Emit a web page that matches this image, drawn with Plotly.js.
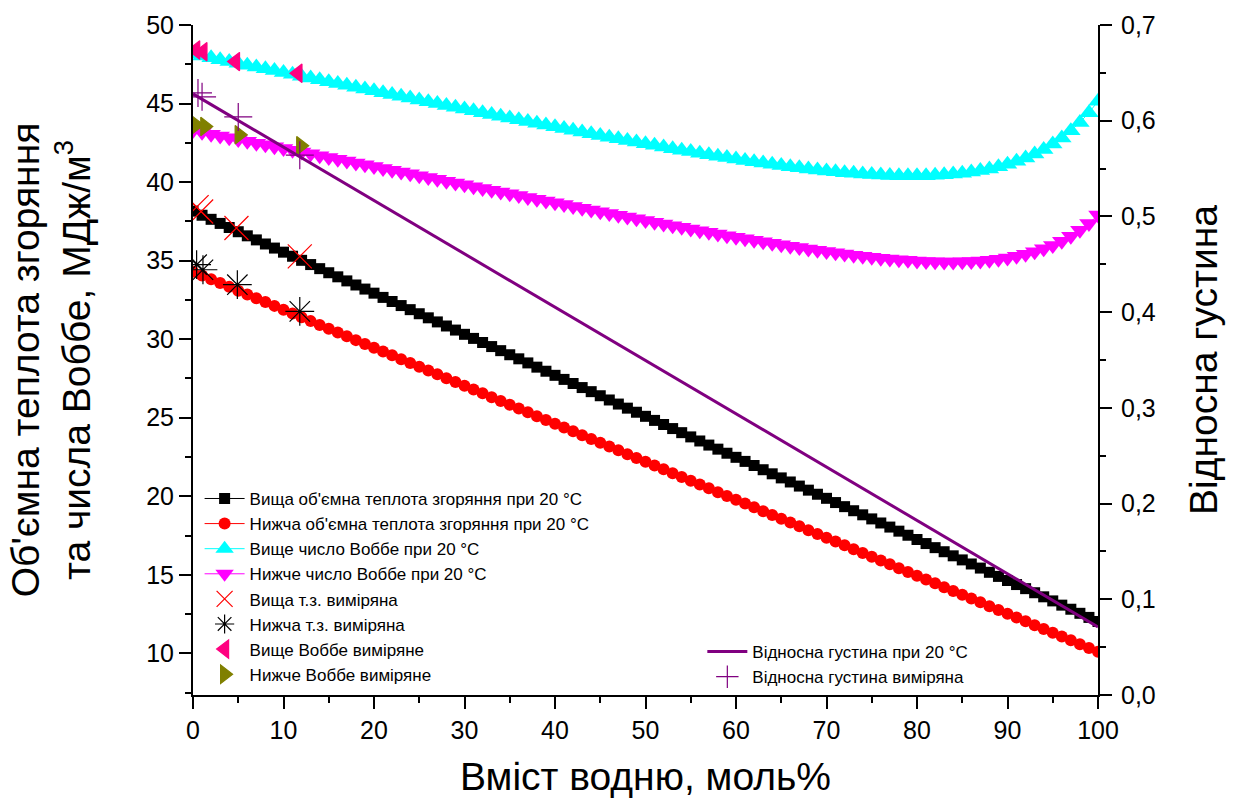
<!DOCTYPE html>
<html>
<head>
<meta charset="utf-8">
<script src="https://cdn.plot.ly/plotly-3.0.1.min.js"></script>
<style>
  html, body { margin: 0; padding: 0; background: #fff; }
  #chart { width: 1239px; height: 798px; }
</style>
</head>
<body>
<div id="chart"></div>
<script>
// hydrogen content, mol% (computed curves are tabulated every 1 %)
const xH2 = [0,1,2,3,4,5,6,7,8,9,10,11,12,13,14,15,16,17,18,19,20,21,22,23,24,25,26,27,28,29,30,
  31,32,33,34,35,36,37,38,39,40,41,42,43,44,45,46,47,48,49,50,51,52,53,54,55,56,57,58,59,60,
  61,62,63,64,65,66,67,68,69,70,71,72,73,74,75,76,77,78,79,80,81,82,83,84,85,86,87,88,89,90,
  91,92,93,94,95,96,97,98,99,100];

// higher volumetric heat of combustion at 20 °C, MJ/m3
const hhv = [38.15,37.89,37.63,37.37,37.11,36.84,36.58,36.32,36.06,35.80,35.54,35.28,35.02,34.75,34.49,
  34.23,33.97,33.71,33.45,33.19,32.93,32.66,32.40,32.14,31.88,31.62,31.36,31.10,30.84,30.58,30.31,
  30.05,29.79,29.53,29.27,29.01,28.75,28.49,28.22,27.96,27.70,27.44,27.18,26.92,26.66,26.40,26.13,
  25.87,25.61,25.35,25.09,24.83,24.57,24.31,24.05,23.78,23.52,23.26,23.00,22.74,22.48,22.22,21.96,
  21.69,21.43,21.17,20.91,20.65,20.39,20.13,19.87,19.60,19.34,19.08,18.82,18.56,18.30,18.04,17.78,
  17.52,17.25,16.99,16.73,16.47,16.21,15.95,15.69,15.43,15.16,14.90,14.64,14.38,14.12,13.86,13.60,
  13.34,13.07,12.81,12.55,12.29,12.03];

// lower volumetric heat of combustion at 20 °C, MJ/m3
const lhv = [34.30,34.06,33.82,33.57,33.33,33.09,32.85,32.61,32.36,32.12,31.88,31.64,31.40,31.15,30.91,
  30.67,30.43,30.19,29.94,29.70,29.46,29.22,28.98,28.73,28.49,28.25,28.01,27.77,27.52,27.28,27.04,
  26.80,26.56,26.31,26.07,25.83,25.59,25.35,25.10,24.86,24.62,24.38,24.14,23.89,23.65,23.41,23.17,
  22.93,22.68,22.44,22.20,21.96,21.72,21.47,21.23,20.99,20.75,20.51,20.26,20.02,19.78,19.54,19.30,
  19.05,18.81,18.57,18.33,18.09,17.84,17.60,17.36,17.12,16.88,16.63,16.39,16.15,15.91,15.67,15.42,
  15.18,14.94,14.70,14.46,14.21,13.97,13.73,13.49,13.25,13.00,12.76,12.52,12.28,12.04,11.79,11.55,
  11.31,11.07,10.83,10.58,10.34,10.10];

// higher Wobbe index at 20 °C
const wobbeHi = [48.14,48.02,47.91,47.79,47.68,47.56,47.44,47.33,47.21,47.10,46.98,46.86,46.74,46.63,46.51,
  46.39,46.27,46.16,46.04,45.93,45.81,45.69,45.58,45.46,45.35,45.23,45.11,45.00,44.88,44.77,44.65,
  44.54,44.42,44.31,44.19,44.08,43.97,43.86,43.74,43.63,43.52,43.41,43.30,43.19,43.08,42.97,42.86,
  42.76,42.65,42.55,42.44,42.34,42.24,42.13,42.03,41.94,41.84,41.74,41.65,41.56,41.47,41.38,41.30,
  41.21,41.13,41.05,40.98,40.91,40.84,40.77,40.71,40.66,40.60,40.56,40.51,40.48,40.45,40.42,40.41,
  40.40,40.40,40.41,40.43,40.46,40.51,40.57,40.64,40.73,40.84,40.98,41.13,41.32,41.54,41.79,42.08,
  42.42,42.81,43.27,43.80,44.42,45.15];

// lower Wobbe index at 20 °C
const wobbeLo = [43.28,43.17,43.05,42.94,42.82,42.71,42.60,42.48,42.37,42.25,42.14,42.03,41.91,41.80,41.68,
  41.57,41.45,41.34,41.22,41.11,40.99,40.87,40.76,40.64,40.53,40.41,40.29,40.18,40.06,39.95,39.83,
  39.71,39.60,39.48,39.37,39.25,39.14,39.02,38.91,38.79,38.68,38.57,38.45,38.34,38.22,38.11,38.00,
  37.89,37.77,37.66,37.55,37.44,37.33,37.22,37.12,37.01,36.90,36.80,36.70,36.59,36.49,36.39,36.29,
  36.20,36.10,36.01,35.92,35.83,35.74,35.66,35.58,35.50,35.42,35.35,35.28,35.22,35.16,35.11,35.06,
  35.02,34.98,34.95,34.93,34.92,34.92,34.93,34.95,34.98,35.03,35.09,35.17,35.28,35.41,35.56,35.75,
  35.97,36.24,36.55,36.93,37.37,37.90];

// relative density at 20 °C (straight line, right axis)
const densX = [0, 100];
const densY = [0.628, 0.071];

// measured points
const hhvMeasX = [0.4, 0.9, 4.8, 11.8];
const hhvMeasY = [38.41, 38.13, 37.08, 35.27];
const lhvMeasX = [0.4, 1.1, 4.9, 11.8];
const lhvMeasY = [34.74, 34.42, 33.47, 31.77];
const wobbeHiMeasX = [0.3, 1.1, 4.7, 11.6];
const wobbeHiMeasY = [48.41, 48.30, 47.67, 46.93];
const wobbeLoMeasX = [0.3, 1.3, 5.1, 11.9];
const wobbeLoMeasY = [43.64, 43.54, 43.01, 42.31];
const densMeasX = [0.55, 1.0, 5.0, 11.8];
const densMeasY = [0.629, 0.625, 0.604, 0.564];

const names = [
  "Вища об'ємна теплота згоряння при 20 °C",
  "Нижча об'ємна теплота згоряння при 20 °C",
  'Вище число Воббе при 20 °C',
  'Нижче число Воббе при 20 °C',
  'Вища т.з. виміряна',
  'Нижча т.з. виміряна',
  'Вище Воббе виміряне',
  'Нижче Воббе виміряне',
  'Відносна густина при 20 °C',
  'Відносна густина виміряна'
];

const FONT = 'Arial, "Liberation Sans", sans-serif';

function curve(name, y, color, symbol, size) {
  return {
    type: 'scatter', mode: 'lines+markers', x: xH2, y: y, name: name,
    line: { color: color, width: 1 },
    marker: { symbol: symbol, size: size, color: color, line: { width: 0 } }
  };
}

function points(name, x, y, color, symbol, size, yaxis, legend) {
  return {
    type: 'scatter', mode: 'markers', x: x, y: y, name: name,
    yaxis: yaxis || 'y', legend: legend || 'legend',
    marker: { symbol: symbol, size: size, color: color, line: { color: color, width: 1.2 } }
  };
}

const traces = [
  curve(names[0], hhv, '#000000', 'square', 11),
  curve(names[1], lhv, '#ff0000', 'circle', 12),
  curve(names[2], wobbeHi, '#00ffff', 'triangle-up', 17),
  curve(names[3], wobbeLo, '#ff00ff', 'triangle-down', 17),
  points(names[4], hhvMeasX, hhvMeasY, '#ff0000', 'x-thin-open', 24),
  points(names[5], lhvMeasX, lhvMeasY, '#000000', 'asterisk-open', 24),
  points(names[6], wobbeHiMeasX, wobbeHiMeasY, '#ff0080', 'triangle-left', 16),
  points(names[7], wobbeLoMeasX, wobbeLoMeasY, '#808000', 'triangle-right', 16),
  {
    type: 'scatter', mode: 'lines', x: densX, y: densY, name: names[8],
    yaxis: 'y2', legend: 'legend2',
    line: { color: '#800080', width: 3 }
  },
  points(names[9], densMeasX, densMeasY, '#800080', 'cross-thin-open', 20, 'y2', 'legend2')
];

const axisBase = {
  showline: true, linecolor: '#000', linewidth: 2,
  showgrid: false, zeroline: false,
  ticks: 'outside', ticklen: 12, tickwidth: 2, tickcolor: '#000',
  tickfont: { family: FONT, size: 25, color: '#000' }
};

const legendBase = {
  bgcolor: 'rgba(0,0,0,0)', borderwidth: 0,
  font: { family: FONT, size: 17, color: '#000' },
  itemsizing: 'trace', tracegroupgap: 0, itemwidth: 40,
  xref: 'paper', yref: 'paper', xanchor: 'left', yanchor: 'top'
};

const layout = {
  width: 1239, height: 798,
  margin: { l: 193, r: 141, t: 25, b: 103 },
  paper_bgcolor: '#fff', plot_bgcolor: '#fff',
  separators: ', ',
  font: { family: FONT, color: '#000' },
  showlegend: true,
  xaxis: Object.assign({}, axisBase, {
    range: [0, 100], tick0: 0, dtick: 10,
    minor: { dtick: 5, ticks: 'outside', ticklen: 6, tickwidth: 2, tickcolor: '#000' },
    title: { text: 'Вміст водню, моль%', font: { family: FONT, size: 39 }, standoff: 23 }
  }),
  yaxis: Object.assign({}, axisBase, {
    range: [7.35, 50], tick0: 0, dtick: 5,
    minor: { dtick: 2.5, ticks: 'outside', ticklen: 6, tickwidth: 2, tickcolor: '#000' },
    title: { text: "Об'ємна теплота згоряння<br>та числа Воббе, МДж/м<sup>3</sup>", font: { family: FONT, size: 39 }, standoff: 44 }
  }),
  yaxis2: Object.assign({}, axisBase, {
    overlaying: 'y', side: 'right', anchor: 'x',
    range: [0, 0.7], tick0: 0, dtick: 0.1, tickformat: '.1f', ticklabelstandoff: 4,
    minor: { dtick: 0.05, ticks: 'outside', ticklen: 6, tickwidth: 2, tickcolor: '#000' },
    title: { text: 'Відносна густина', font: { family: FONT, size: 39 }, standoff: 35 }
  }),
  legend: Object.assign({}, legendBase, { x: 0.0073, y: 0.3195 }),
  legend2: Object.assign({}, legendBase, { x: 0.5628, y: 0.091 })
};

Plotly.newPlot('chart', traces, layout, { displayModeBar: false, staticPlot: true });
</script>
</body>
</html>
